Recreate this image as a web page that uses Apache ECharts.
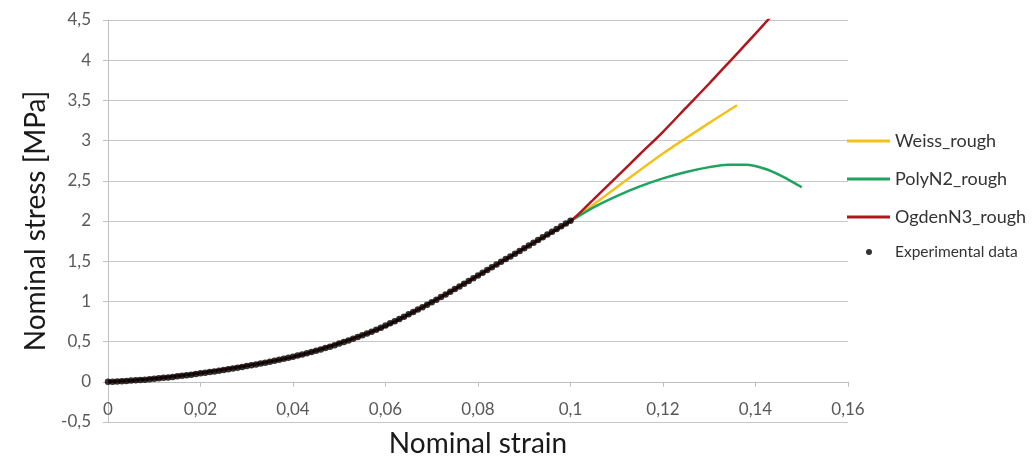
<!DOCTYPE html>
<html>
<head>
<meta charset="utf-8">
<script src="https://cdn.jsdelivr.net/npm/echarts@6/dist/echarts.min.js"></script>
<style>html,body{margin:0;padding:0;background:#fff;}#c{width:1033px;height:460px;}</style>
</head>
<body>
<div id="c"></div>
<script>
// Experimental data: strain 0..0.1 step 0.001
const expStrain = [];
for (let i = 0; i <= 100; i++) expStrain.push(+(i * 0.001).toFixed(3));
const expStress = [
  0.000, 0.002, 0.005, 0.008, 0.011, 0.015, 0.019, 0.023, 0.027, 0.032,
  0.037, 0.043, 0.049, 0.055, 0.061, 0.068, 0.075, 0.082, 0.089, 0.097,
  0.105, 0.113, 0.121, 0.129, 0.138, 0.147, 0.156, 0.165, 0.175, 0.185,
  0.195, 0.205, 0.216, 0.227, 0.238, 0.249, 0.261, 0.273, 0.286, 0.299,
  0.312, 0.326, 0.340, 0.355, 0.370, 0.386, 0.402, 0.419, 0.436, 0.455,
  0.475, 0.494, 0.514, 0.535, 0.556, 0.578, 0.600, 0.623, 0.647, 0.673,
  0.700, 0.727, 0.754, 0.782, 0.810, 0.839, 0.868, 0.898, 0.928, 0.959,
  0.990, 1.022, 1.054, 1.087, 1.120, 1.153, 1.186, 1.220, 1.254, 1.288,
  1.322, 1.356, 1.390, 1.424, 1.458, 1.492, 1.526, 1.560, 1.594, 1.628,
  1.662, 1.696, 1.730, 1.764, 1.798, 1.832, 1.866, 1.900, 1.934, 1.968,
  2.002
];

const weissStrain = [0, 0.01, 0.02, 0.03, 0.04, 0.05, 0.06, 0.07, 0.08, 0.09, 0.1, 0.11, 0.12, 0.13, 0.136];
const weissStress = [0, 0.04, 0.11, 0.20, 0.31, 0.48, 0.70, 0.99, 1.32, 1.66, 2.00, 2.42, 2.84, 3.22, 3.44];

const polyStrain = [0, 0.01, 0.02, 0.03, 0.04, 0.05, 0.06, 0.07, 0.08, 0.09, 0.1, 0.105, 0.11, 0.115, 0.12, 0.125, 0.13, 0.134, 0.138, 0.142, 0.146, 0.15];
const polyStress = [0, 0.04, 0.11, 0.20, 0.31, 0.48, 0.70, 0.99, 1.32, 1.66, 2.00, 2.17, 2.31, 2.43, 2.53, 2.61, 2.67, 2.70, 2.70, 2.65, 2.55, 2.42];

const ogdenStrain = [0, 0.01, 0.02, 0.03, 0.04, 0.05, 0.06, 0.07, 0.08, 0.09, 0.1, 0.105, 0.11, 0.115, 0.12, 0.125, 0.13, 0.135, 0.14, 0.145];
const ogdenStress = [0, 0.04, 0.11, 0.20, 0.31, 0.48, 0.69, 0.99, 1.32, 1.66, 2.00, 2.27, 2.55, 2.83, 3.11, 3.41, 3.71, 4.02, 4.33, 4.65];

const xTicks = { min: 0, max: 0.16, interval: 0.02 };
const yTicks = { min: -0.5, max: 4.5, interval: 0.5 };

const seriesNames = ['Weiss_rough', 'PolyN2_rough', 'OgdenN3_rough', 'Experimental data'];

const zip = (a, b) => a.map((v, i) => [v, b[i]]);
const comma = v => String(+v.toFixed(3)).replace('.', ',');
const FONT = 'Lato';

const chart = echarts.init(document.getElementById('c'), null, { renderer: 'canvas' });
chart.setOption({
  animation: false,
  backgroundColor: '#ffffff',
  textStyle: { fontFamily: FONT },
  grid: { left: 108, right: 185, top: 20, bottom: 38, containLabel: false, outerBoundsMode: 'none' },
  legend: [
    {
      data: seriesNames.slice(0, 3).map(n => ({ name: n, icon: 'rect' })),
      orient: 'vertical', left: 847, top: 130, padding: 0,
      itemWidth: 43, itemHeight: 3, itemGap: 16,
      textStyle: { fontFamily: FONT, fontSize: 18, color: '#333333', lineHeight: 22 },
      selectedMode: false
    },
    {
      data: [{ name: seriesNames[3], icon: 'circle' }],
      orient: 'vertical', left: 866, top: 242, padding: 0,
      itemWidth: 6, itemHeight: 6,
      textStyle: { fontFamily: FONT, fontSize: 15.5, color: '#333333', lineHeight: 20, padding: [0, 0, 0, 18] },
      selectedMode: false
    }
  ],
  xAxis: {
    type: 'value', min: xTicks.min, max: xTicks.max, interval: xTicks.interval,
    name: 'Nominal strain', nameLocation: 'middle', nameGap: 8,
    nameTextStyle: { fontFamily: FONT, fontSize: 28, color: '#1a1a1a' },
    axisLine: { show: true, onZero: true, lineStyle: { color: '#bfbfbf', width: 1 } },
    axisTick: { show: true, length: 5, lineStyle: { color: '#bfbfbf' } },
    axisLabel: { fontFamily: FONT, fontSize: 17, color: '#595959', margin: -21, formatter: comma },
    splitLine: { show: false }
  },
  yAxis: {
    type: 'value', min: yTicks.min, max: yTicks.max, interval: yTicks.interval,
    name: 'Nominal stress [MPa]', nameLocation: 'middle', nameGap: 51,
    nameTextStyle: { fontFamily: FONT, fontSize: 28, color: '#1a1a1a' },
    axisLine: { show: true, lineStyle: { color: '#bfbfbf', width: 1 } },
    axisTick: { show: true, length: 5, lineStyle: { color: '#bfbfbf' } },
    axisLabel: { fontFamily: FONT, fontSize: 17, color: '#595959', margin: 17, formatter: comma },
    splitLine: { show: true, lineStyle: { color: '#c6c6c6', width: 1 } }
  },
  series: [
    {
      name: seriesNames[0], type: 'line', data: zip(weissStrain, weissStress),
      smooth: 0.3, symbol: 'none', clip: true,
      lineStyle: { color: '#f2c21b', width: 2.5 }, itemStyle: { color: '#f2c21b' }, z: 2
    },
    {
      name: seriesNames[1], type: 'line', data: zip(polyStrain, polyStress),
      smooth: 0.3, symbol: 'none', clip: true,
      lineStyle: { color: '#1fa35f', width: 2.5 }, itemStyle: { color: '#1fa35f' }, z: 3
    },
    {
      name: seriesNames[2], type: 'line', data: zip(ogdenStrain, ogdenStress),
      smooth: 0.3, symbol: 'none', clip: true,
      lineStyle: { color: '#b2161c', width: 2.5 }, itemStyle: { color: '#b2161c' }, z: 4
    },
    {
      name: seriesNames[3], type: 'scatter', data: zip(expStrain, expStress),
      symbol: 'circle', symbolSize: 6.5,
      itemStyle: { color: '#000000' }, z: 5
    }
  ]
});
</script>
</body>
</html>
